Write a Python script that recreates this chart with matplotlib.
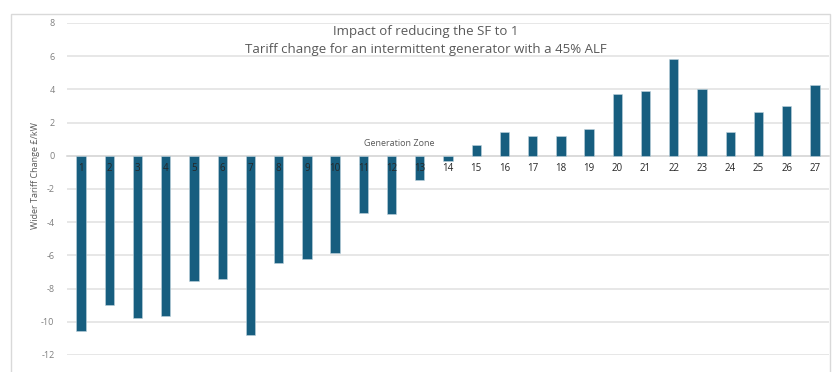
import matplotlib
matplotlib.use("Agg")
import matplotlib.pyplot as plt
from matplotlib.patches import Rectangle

zones = [str(i) for i in range(1, 28)]
values = [-10.53, -8.97, -9.78, -9.63, -7.55, -7.43, -10.79, -6.44, -6.22, -5.88,
          -3.45, -3.50, -1.45, -0.32, 0.65, 1.45, 1.21, 1.21, 1.62, 3.72,
          3.92, 5.84, 4.04, 1.42, 2.63, 3.03, 4.24]
yticks = [8, 6, 4, 2, 0, -2, -4, -6, -8, -10, -12]

title = "Impact of reducing the SF to 1\nTariff change for an intermittent generator with a 45% ALF"
xlabel = "Generation Zone"
ylabel = "Wider Tariff Change £/kW"

plt.rcParams['font.family'] = ['Open Sans', 'DejaVu Sans']

fig = plt.figure(figsize=(8.33, 3.72), dpi=100)
W, H = 833, 372
# outer chart border
fig.patches.append(Rectangle((11 / W, -0.1), (830 - 11) / W, 1.1 - 14 / H,
                             transform=fig.transFigure, fill=False,
                             edgecolor='#D9D9D9', linewidth=1.0))

ax = fig.add_axes([67 / W, 1 - 355 / H, (829 - 67) / W, (355 - 23) / H])
x = list(range(len(zones)))
ax.bar(x, values, width=0.33, color='#175E7F', edgecolor='#BFD3DD', linewidth=0.4, zorder=3)
ax.set_xlim(-0.5, len(zones) - 0.5)
ax.set_ylim(-12, 8)
ax.set_yticks(yticks)
ax.set_yticklabels([str(t) for t in yticks], fontsize=6.5, color='#7F7F7F')
ax.tick_params(axis='y', length=0, pad=9)
ax.grid(axis='y', color='#E3E3E3', linewidth=1.2, zorder=0)
ax.set_axisbelow(True)

ax.set_xticks(x)
ax.set_xticklabels([])
ax.tick_params(axis='x', length=0)
ax.spines['bottom'].set_position(('data', 0))
ax.spines['bottom'].set_color('#D9D9D9')
ax.spines['bottom'].set_linewidth(1.2)
for s in ['top', 'right', 'left']:
    ax.spines[s].set_visible(False)

for xi, z in zip(x, zones):
    ax.annotate(z, xy=(xi, 0), xytext=(0, -9.5), textcoords='offset points',
                ha='center', va='center', fontsize=7, color='#262626', zorder=6)

fig.text(399 / W, 1 - 144 / H, xlabel, ha='center', va='center', fontsize=6.5, color='#595959')
fig.text(35 / W, 1 - 176 / H, ylabel, ha='center', va='center', rotation=90, fontsize=6.5, color='#595959')
fig.text(426 / W, 1 - 41 / H, title, ha='center', va='center', fontsize=9.5, color='#595959',
         linespacing=1.5)

fig.savefig("out.png", dpi=100)
